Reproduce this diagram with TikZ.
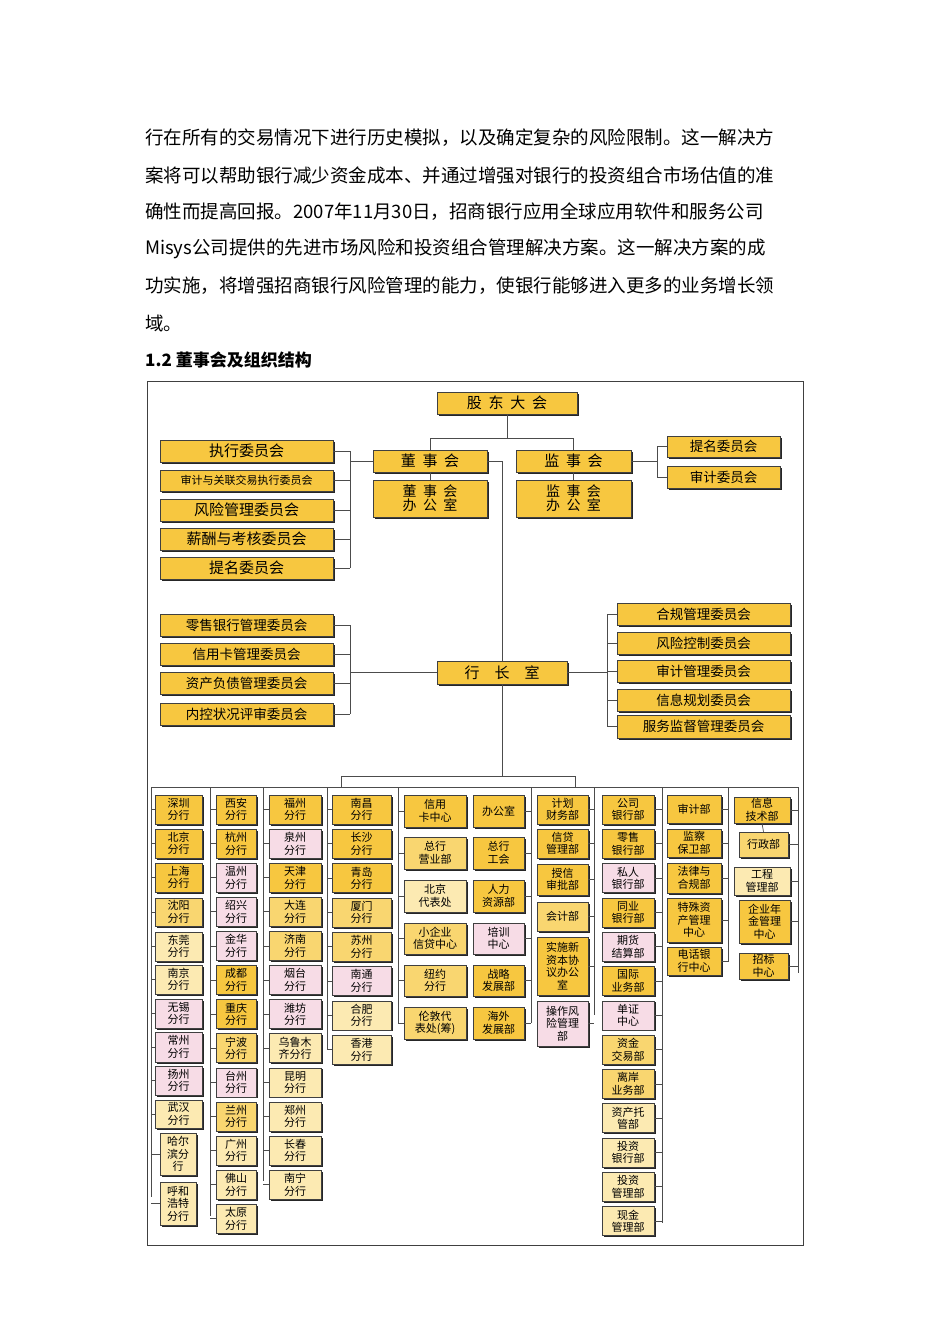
\documentclass[tikz,border=0pt]{standalone}
\usepackage{fontspec}
\setmainfont{Noto Sans CJK SC}
\usetikzlibrary{shadows}
\definecolor{g}{HTML}{F7C740}
\definecolor{m}{HTML}{F9D670}
\definecolor{c}{HTML}{FCEAB2}
\definecolor{p}{HTML}{F7DCE6}
\newcommand\bx[7]{\node[box,fill=#6,minimum width={((#4)-(#2))*1pt},minimum height={((#5)-(#3))*1pt}] (#1) at ({((#2)+(#4))/2},{((#3)+(#5))/2}) {#7};}
\newcommand\fb{\fontsize{14}{15}\selectfont}
\begin{document}
\begin{tikzpicture}[x=1pt,y=-1pt,
  box/.style={draw=black!75,line width=0.6pt,inner sep=0pt,align=center,font=\fontsize{11}{12.5}\selectfont,
    drop shadow={shadow xshift=1.6pt,shadow yshift=-1.6pt,fill=black!85,opacity=1}},
  ln/.style={draw=black!70,line width=0.7pt},
  para/.style={anchor=west,inner sep=0pt,font=\fontsize{18.5}{18.5}\selectfont}]
\useasboundingbox (0,0) rectangle (950,1344);
% paragraph
\node[para,text width=660pt,align=justify] (l1) at (145,138) {\parfillskip=0pt 行在所有的交易情况下进行历史模拟，以及确定复杂的风险限制。这一解决方\par};
\node[para,text width=660pt,align=justify] (l2) at (145,175) {\parfillskip=0pt 案将可以帮助银行减少资金成本、并通过增强对银行的投资组合市场估值的准\par};
\node[para,text width=660pt,align=justify] (l3) at (145,212) {\parfillskip=0pt 确性而提高回报。2007年11月30日，招商银行应用全球应用软件和服务公司\par};
\node[para,text width=660pt,align=justify] (l4) at (145,249) {\parfillskip=0pt Misys公司提供的先进市场风险和投资组合管理解决方案。这一解决方案的成\par};
\node[para,text width=660pt,align=justify] (l5) at (145,286) {\parfillskip=0pt 功实施，将增强招商银行风险管理的能力，使银行能够进入更多的业务增长领\par};
\node[para] (l6) at (145,323) {域。};
\node[para,font=\fontsize{17}{17}\selectfont\bfseries] (hd) at (145,360) {1.2 董事会及组织结构};
% frame
\draw[black!75,line width=0.8pt] (147,381) rectangle (803,1245);
% top
\bx{gd}{437}{392}{577}{414}{g}{\fontsize{15}{16}\selectfont 股\ \ 东\ \ 大\ \ 会}
\bx{dsh}{373}{450}{487}{472}{g}{\fontsize{15}{16}\selectfont 董\ \ 事\ \ 会}
\bx{dsb}{373}{480}{487}{517}{g}{\fb 董\ \ 事\ \ 会\\ \fb 办\ \ 公\ \ 室}
\bx{jsh}{516}{450}{631}{472}{g}{\fontsize{15}{16}\selectfont 监\ \ 事\ \ 会}
\bx{jsb}{516}{480}{631}{517}{g}{\fb 监\ \ 事\ \ 会\\ \fb 办\ \ 公\ \ 室}
\bx{L1}{160}{440}{333}{462}{g}{\fontsize{15}{16}\selectfont 执行委员会}
\bx{L2}{160}{470}{333}{491}{g}{\fontsize{11}{12}\selectfont 审计与关联交易执行委员会}
\bx{L3}{160}{499}{333}{521}{g}{\fontsize{15}{16}\selectfont 风险管理委员会}
\bx{L4}{160}{528}{333}{550}{g}{\fontsize{15}{16}\selectfont 薪酬与考核委员会}
\bx{L5}{160}{557}{333}{579}{g}{\fontsize{15}{16}\selectfont 提名委员会}
\bx{R1}{667}{436}{780}{457}{g}{\fontsize{13.5}{14}\selectfont 提名委员会}
\bx{R2}{667}{466}{780}{488}{g}{\fontsize{13.5}{14}\selectfont 审计委员会}
\bx{hz}{437}{661}{567}{684}{g}{\fontsize{15}{16}\selectfont 行\quad 长\quad 室}
\bx{M1}{160}{614}{333}{636}{g}{\fontsize{13.5}{14}\selectfont 零售银行管理委员会}
\bx{M2}{160}{643}{333}{665}{g}{\fontsize{13.5}{14}\selectfont 信用卡管理委员会}
\bx{M3}{160}{672}{333}{694}{g}{\fontsize{13.5}{14}\selectfont 资产负债管理委员会}
\bx{M4}{160}{703}{333}{725}{g}{\fontsize{13.5}{14}\selectfont 内控状况评审委员会}
\bx{N1}{617}{603}{790}{625}{g}{\fontsize{13.5}{14}\selectfont 合规管理委员会}
\bx{N2}{617}{632}{790}{654}{g}{\fontsize{13.5}{14}\selectfont 风险控制委员会}
\bx{N3}{617}{660}{790}{682}{g}{\fontsize{13.5}{14}\selectfont 审计管理委员会}
\bx{N4}{617}{689}{790}{711}{g}{\fontsize{13.5}{14}\selectfont 信息规划委员会}
\bx{N5}{617}{715}{790}{738}{g}{\fontsize{13.5}{14}\selectfont 服务监督管理委员会}
% top connectors
\draw[ln] (gd.south) -- (507,438) -| (dsh.north);
\draw[ln] (507,438) -| (jsh.north);
\draw[ln] (dsh.south) -- (dsb.north);
\draw[ln] (jsh.south) -- (jsb.north);
\draw[ln] (dsh.west) -- (350,461);
\foreach \n in {L1,L2,L3,L4,L5} \draw[ln] (\n.east) -- (350,0 |- \n.east);
\draw[ln] (350,451) -- (350,568);
\draw[ln] (jsh.east) -- (657,461);
\draw[ln] (657,447) -- (657,477);
\foreach \n in {R1,R2} \draw[ln] (\n.west) -- (657,0 |- \n.west);
\draw[ln] (dsh.east) -- (502,461) -- (hz.north -| 502,0);
\foreach \n in {M1,M2,M3,M4} \draw[ln] (\n.east) -- (350,0 |- \n.east);
\draw[ln] (350,625) -- (350,714);
\draw[ln] (hz.west) -- (350,0 |- hz.west);
\foreach \n in {N1,N2,N3,N4,N5} \draw[ln] (\n.west) -- (607,0 |- \n.west);
\draw[ln] (607,614) -- (607,727);
\draw[ln] (hz.east) -- (607,0 |- hz.east);
\draw[ln] (hz.south -| 502,0) -- (502,776);
\draw[ln] (341,787) -- (341,776) -- (575,776) -- (575,787);
\draw[ln] (151,787) -- (798,787);
% col1
\bx{a1}{155}{795}{202}{824}{g}{深圳\\分行}
\bx{a2}{155}{829}{202}{858}{g}{北京\\分行}
\bx{a3}{155}{863}{202}{892}{g}{上海\\分行}
\bx{a4}{155}{898}{202}{926}{m}{沈阳\\分行}
\bx{a5}{155}{932}{202}{961}{c}{东莞\\分行}
\bx{a6}{155}{965}{202}{994}{c}{南京\\分行}
\bx{a7}{155}{999}{202}{1028}{p}{无锡\\分行}
\bx{a8}{155}{1032}{202}{1062}{p}{常州\\分行}
\bx{a9}{155}{1066}{202}{1095}{p}{扬州\\分行}
\bx{a10}{155}{1100}{202}{1128}{c}{武汉\\分行}
\bx{a11}{160}{1133}{196}{1175}{c}{哈尔\\滨分\\行}
\bx{a12}{160}{1182}{196}{1225}{c}{呼和\\浩特\\分行}
\foreach \i in {1,...,12} \draw[ln] (a\i.west) -- (151,0 |- a\i.west);
\draw[ln] (151,787) -- (151,1197);
% col2
\foreach \t/\c [count=\i] in {{西安\\分行}/g,{杭州\\分行}/g,{温州\\分行}/p,{绍兴\\分行}/p,{金华\\分行}/p,{成都\\分行}/g,{重庆\\分行}/g,{宁波\\分行}/m,{台州\\分行}/p,{兰州\\分行}/m,{广州\\分行}/c,{佛山\\分行}/c,{太原\\分行}/c}{
  \pgfmathsetmacro\ya{795+34.1*(\i-1)}\pgfmathsetmacro\yb{\ya+29}
  \bx{b\i}{216}{\ya}{256}{\yb}{\c}{\t}
  \draw[ln] (b\i.west) -- (210,0 |- b\i.west);}
\draw[ln] (210,787) -- (210,1216);
% col3
\foreach \t/\c [count=\i] in {{福州\\分行}/g,{泉州\\分行}/p,{天津\\分行}/g,{大连\\分行}/m,{济南\\分行}/m,{烟台\\分行}/p,{潍坊\\分行}/p,{乌鲁木\\齐分行}/c,{昆明\\分行}/c,{郑州\\分行}/c,{长春\\分行}/c,{南宁\\分行}/c}{
  \pgfmathsetmacro\ya{795+34.1*(\i-1)}\pgfmathsetmacro\yb{\ya+29}
  \bx{d\i}{269}{\ya}{321}{\yb}{\c}{\t}
  \draw[ln] (d\i.west) -- (263,0 |- d\i.west);}
\draw[ln] (263,787) -- (263,1181);
% col4
\foreach \t/\c [count=\i] in {{南昌\\分行}/g,{长沙\\分行}/g,{青岛\\分行}/g,{厦门\\分行}/m,{苏州\\分行}/m,{南通\\分行}/p,{合肥\\分行}/c,{香港\\分行}/c}{
  \pgfmathsetmacro\ya{795+34.3*(\i-1)}\pgfmathsetmacro\yb{\ya+29}
  \bx{e\i}{332}{\ya}{391}{\yb}{\c}{\t}
  \draw[ln] (e\i.west) -- (327,0 |- e\i.west);}
\draw[ln] (327,787) -- (327,1050);
% col5
\foreach \t/\u/\c/\d/\ya/\yb [count=\i] in {{信用\\卡中心}/办公室/g/g/795/827,{总行\\营业部}/{总行\\工会}/m/g/837/869,{北京\\代表处}/{人力\\资源部}/c/g/880/912,{小企业\\信贷中心}/{培训\\中心}/m/p/923/954,{纽约\\分行}/{战略\\发展部}/m/g/965/996,{伦敦代\\表处(筹)}/{海外\\发展部}/m/g/1007/1039}{
  \bx{f\i}{404}{\ya}{466}{\yb}{\c}{\t}
  \bx{h\i}{473}{\ya}{524}{\yb}{\d}{\u}
  \draw[ln] (f\i.west) -- (398,0 |- f\i.west);
  \draw[ln] (h\i.east) -- (531,0 |- h\i.east);}
\draw[ln] (398,787) -- (398,1023);
\draw[ln] (531,787) -- (531,1023);
% col6
\bx{k1}{537}{795}{588}{824}{g}{计划\\财务部}
\bx{k2}{537}{829}{588}{858}{g}{信贷\\管理部}
\bx{k3}{537}{864}{588}{895}{g}{授信\\审批部}
\bx{k4}{537}{902}{588}{931}{m}{会计部}
\bx{k5}{537}{937}{588}{995}{g}{实施新\\资本协\\议办公\\室}
\bx{k6}{537}{1001}{588}{1046}{p}{操作风\\险管理\\部}
\foreach \i in {1,...,6} \draw[ln] (k\i.east) -- (594,0 |- k\i.east);
\draw[ln] (594,787) -- (594,1015);
% col7
\foreach \t/\c [count=\i] in {{公司\\银行部}/g,{零售\\银行部}/g,{私人\\银行部}/p,{同业\\银行部}/g,{期货\\结算部}/p,{国际\\业务部}/g,{单证\\中心}/p,{资金\\交易部}/m,{离岸\\业务部}/m,{资产托\\管部}/c,{投资\\银行部}/c,{投资\\管理部}/c,{现金\\管理部}/c}{
  \pgfmathsetmacro\ya{795+34.3*(\i-1)}\pgfmathsetmacro\yb{\ya+29}
  \bx{q\i}{602}{\ya}{654}{\yb}{\c}{\t}
  \draw[ln] (q\i.east) -- (662,0 |- q\i.east);}
\draw[ln] (662,787) -- (662,1223);
% col8
\bx{r1}{667}{795}{721}{823}{g}{审计部}
\bx{r2}{667}{829}{721}{857}{g}{监察\\保卫部}
\bx{r3}{667}{863}{721}{893}{g}{法律与\\合规部}
\bx{r4}{667}{898}{721}{942}{g}{特殊资\\产管理\\中心}
\bx{r5}{667}{947}{721}{975}{g}{电话银\\行中心}
\foreach \i in {1,...,5} \draw[ln] (r\i.east) -- (728,0 |- r\i.east);
\draw[ln] (728,787) -- (728,962);
% col9
\bx{s1}{734}{797}{790}{823}{g}{信息\\技术部}
\bx{s2}{739}{832}{788}{857}{m}{行政部}
\bx{s3}{734}{867}{790}{895}{c}{工程\\管理部}
\bx{s4}{739}{900}{790}{943}{g}{企业年\\金管理\\中心}
\bx{s5}{739}{953}{788}{979}{g}{招标\\中心}
\foreach \i in {1,...,5} \draw[ln] (s\i.east) -- (798,0 |- s\i.east);
\draw[ln] (s1.south) -- (s2.north);
\draw[ln] (798,787) -- (798,973);
\end{tikzpicture}
\end{document}
